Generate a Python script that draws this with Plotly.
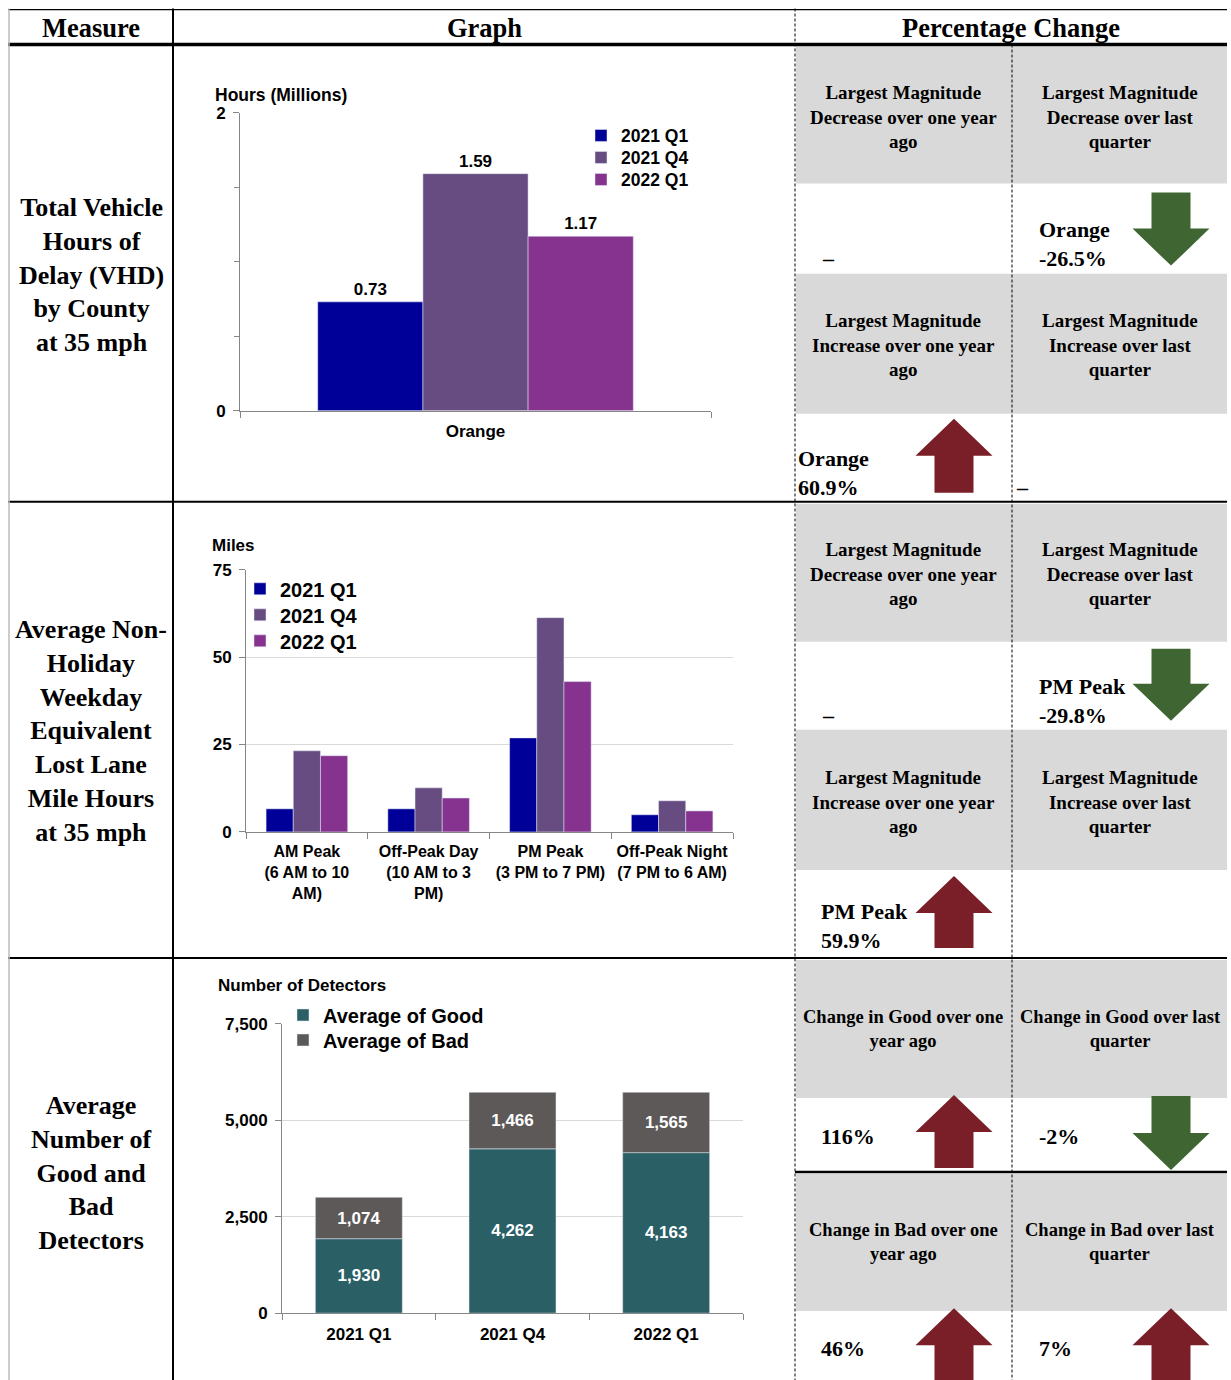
import plotly.graph_objects as go

W, H = 1231, 1384
Y_OFF, Y_SCALE = 8.5, 0.9858  # observed vertical placement of the figure in the page photo

# ---------------- data ----------------
series_names = ["2021 Q1", "2021 Q4", "2022 Q1"]

vhd_categories = ["Orange"]
vhd_2021_q1 = [0.73]
vhd_2021_q4 = [1.59]
vhd_2022_q1 = [1.17]

lane_categories = ["AM Peak<br>(6 AM to 10<br>AM)", "Off-Peak Day<br>(10 AM to 3<br>PM)",
                   "PM Peak<br>(3 PM to 7 PM)", "Off-Peak Night<br>(7 PM to 6 AM)"]
lane_2021_q1 = [6.6, 6.6, 26.9, 4.9]
lane_2021_q4 = [23.2, 12.6, 61.3, 8.9]
lane_2022_q1 = [21.8, 9.7, 43.0, 6.0]

det_quarters = ["2021 Q1", "2021 Q4", "2022 Q1"]
det_good = [1930, 4262, 4163]
det_bad = [1074, 1466, 1565]
det_series = ["Average of Good", "Average of Bad"]

# ---------------- style ----------------
SERIES_COLORS = ["#000099", "#664c80", "#86338f"]
GOOD_COLOR = "#2a5f66"
BAD_COLOR = "#5e5959"
GRAY = "#d9d9d9"
AXIS = "#868686"
RED = "#7a1e28"
GREEN = "#3f6632"
SANS = "Liberation Sans, Arial, sans-serif"
SERIF = "Liberation Serif, Times New Roman, serif"


def X(px):
    return px / W


def Y(py):
    return 1 - ((py - Y_OFF) / Y_SCALE) / H


fig = go.Figure()

# Chart 1 (each series in its own legend so rows can be spaced like the original)
for i, (name, vals, col) in enumerate(zip(series_names, [vhd_2021_q1, vhd_2021_q4, vhd_2022_q1], SERIES_COLORS)):
    fig.add_trace(go.Bar(x=vhd_categories, y=vals, name=name, marker_color=col,
                         texttemplate="%{y:.2f}", textposition="outside",
                         textfont=dict(family=SANS, size=17, color="black", weight="bold"),
                         cliponaxis=False, xaxis="x", yaxis="y", showlegend=True,
                         legend="legend" if i == 0 else f"legend{i + 1}"))

# Chart 2
for i, (name, vals, col) in enumerate(zip(series_names, [lane_2021_q1, lane_2021_q4, lane_2022_q1], SERIES_COLORS)):
    fig.add_trace(go.Bar(x=lane_categories, y=vals, name=name, marker_color=col, showlegend=True,
                         xaxis="x2", yaxis="y2", legend=f"legend{i + 4}"))

# Chart 3 (stacked via base)
fig.add_trace(go.Bar(x=det_quarters, y=det_good, name=det_series[0], marker_color=GOOD_COLOR,
                     width=0.566, offset=-0.283, showlegend=True,
                     texttemplate="%{y:,}", textposition="inside", insidetextanchor="middle",
                     textfont=dict(family=SANS, size=17, color="white", weight="bold"),
                     xaxis="x3", yaxis="y3", legend="legend7"))
fig.add_trace(go.Bar(x=det_quarters, y=det_bad, base=det_good, name=det_series[1], marker_color=BAD_COLOR,
                     width=0.566, offset=-0.283, showlegend=True,
                     texttemplate="%{y:,}", textposition="inside", insidetextanchor="middle",
                     textfont=dict(family=SANS, size=17, color="white", weight="bold"),
                     xaxis="x3", yaxis="y3", legend="legend8"))

tickfont = dict(family=SANS, size=17, color="black", weight="bold")
xcommon = dict(type="category", showline=True, linecolor=AXIS, ticks="outside", tickcolor=AXIS,
               ticklen=6, tickson="boundaries", showgrid=False, tickangle=0, fixedrange=True,
               ticklabelstandoff=5)
ycommon = dict(showline=True, linecolor=AXIS, ticks="outside", tickcolor=AXIS, ticklen=6,
               showgrid=True, gridcolor=GRAY, zeroline=False, tickfont=tickfont, fixedrange=True,
               ticklabelstandoff=4)


def leg(text_x, center_y, size):
    return dict(x=X(text_x - 40), y=Y(center_y), xanchor="left", yanchor="middle",
                bgcolor="rgba(0,0,0,0)", borderwidth=0, visible=True,
                font=dict(family=SANS, size=size, color="black", weight="bold"))


layout_legends = {
    "legend": leg(621, 135, 17.5), "legend2": leg(621, 157, 17.5), "legend3": leg(621, 179, 17.5),
    "legend4": leg(280, 588, 20), "legend5": leg(280, 614, 20), "legend6": leg(280, 640, 20),
    "legend7": leg(323, 1014, 20), "legend8": leg(323, 1039, 20),
}

fig.update_layout(
    width=W, height=H, autosize=False, showlegend=True,
    margin=dict(l=0, r=0, t=0, b=0, pad=0),
    paper_bgcolor="white", plot_bgcolor="white",
    barmode="group", bargap=0.33, bargroupgap=0,
    xaxis=dict(domain=[X(240), X(711)], anchor="y", tickfont=tickfont, **xcommon),
    yaxis=dict(domain=[Y(410), Y(112)], anchor="x", range=[0, 2], tickvals=[0, 2],
               minor=dict(ticks="outside", ticklen=5, tickcolor=AXIS, dtick=0.5, showgrid=False),
               **ycommon),
    xaxis2=dict(domain=[X(246), X(733)], anchor="y2",
                tickfont=dict(family=SANS, size=16, color="black", weight="bold"), **xcommon),
    yaxis2=dict(domain=[Y(831), Y(569)], anchor="x2", range=[0, 75], tickvals=[0, 25, 50, 75], **ycommon),
    xaxis3=dict(domain=[X(282), X(743)], anchor="y3", tickfont=tickfont, **xcommon),
    yaxis3=dict(domain=[Y(1312), Y(1023)], anchor="x3", range=[0, 7500], tickvals=[0, 2500, 5000, 7500],
                tickformat=",", **ycommon),
    **layout_legends,
)

shapes = []
annotations = []


def line(x0, y0, x1, y1, width=1, color="black", dash="solid"):
    shapes.append(dict(type="line", xref="paper", yref="paper", x0=X(x0), y0=Y(y0), x1=X(x1), y1=Y(y1),
                       line=dict(color=color, width=width, dash=dash), layer="above"))


def rect(x0, y0, x1, y1, color=GRAY):
    shapes.append(dict(type="rect", xref="paper", yref="paper", x0=X(x0), y0=Y(y0), x1=X(x1), y1=Y(y1),
                       fillcolor=color, line=dict(width=0), layer="below"))


def poly(points, color):
    path = "M " + " L ".join(f"{X(px):.5f},{Y(py):.5f}" for px, py in points) + " Z"
    shapes.append(dict(type="path", xref="paper", yref="paper", path=path, fillcolor=color,
                       line=dict(width=0), layer="above"))


def up_arrow(cx, tip, bottom, head=37):
    poly([(cx, tip), (cx + 38.5, tip + head), (cx + 19.5, tip + head), (cx + 19.5, bottom),
          (cx - 19.5, bottom), (cx - 19.5, tip + head), (cx - 38.5, tip + head)], RED)


def down_arrow(cx, top, tip, head=37):
    poly([(cx - 19.5, top), (cx + 19.5, top), (cx + 19.5, tip - head), (cx + 38.5, tip - head),
          (cx, tip), (cx - 38.5, tip - head), (cx - 19.5, tip - head)], GREEN)


def text(t, x, y, size, family=SERIF, xanchor="center", align="center", color="black"):
    annotations.append(dict(text=t, x=X(x), y=Y(y), xref="paper", yref="paper", showarrow=False,
                            xanchor=xanchor, yanchor="middle", align=align,
                            font=dict(family=family, size=size, color=color, weight="bold")))


# gray header cells
for y0, y1 in [(46, 183), (273, 413), (503, 641), (729, 869), (959, 1097), (1173, 1310)]:
    rect(796, y0, 1227, y1)

# table lines
line(8, 9.2, 1227, 9.2, 1.2)
line(8, 44, 1227, 44, 3.5)
line(8, 501, 1227, 501, 2)
line(8, 957, 1227, 957, 2)
line(795, 1171, 1227, 1171, 2.5)
line(9, 8, 9, 1395, 1.5, color="#bdbdbd")
line(173, 8, 173, 1395, 2)
line(795, 8, 795, 1395, 1, dash="3px,2px")
line(1012, 44, 1012, 1395, 1, dash="3px,2px")

# arrows
down_arrow(1171, 192, 265)
up_arrow(954, 418, 492)
down_arrow(1171, 648, 720)
up_arrow(954, 875, 947)
up_arrow(954, 1094, 1167)
down_arrow(1171, 1095, 1169)
up_arrow(954, 1307, 1400)
up_arrow(1171, 1307, 1400)

# header row
text("Measure", 91, 27, 26.5)
text("Graph", 484, 27, 26.5)
text("Percentage Change", 1011, 27, 26.5)

# measure column
text("Total Vehicle<br>Hours of<br>Delay (VHD)<br>by County<br>at 35 mph", 91, 274.5, 26)
text("Average Non-<br>Holiday<br>Weekday<br>Equivalent<br>Lost Lane<br>Mile Hours<br>at 35 mph", 91, 730.5, 26)
text("Average<br>Number of<br>Good and<br>Bad<br>Detectors", 91, 1171.5, 26)

# percentage change headers
text("Largest Magnitude<br>Decrease over one year<br>ago", 903, 116, 19)
text("Largest Magnitude<br>Decrease over last<br>quarter", 1120, 116, 19)
text("Largest Magnitude<br>Increase over one year<br>ago", 903, 344, 19)
text("Largest Magnitude<br>Increase over last<br>quarter", 1120, 344, 19)
text("Largest Magnitude<br>Decrease over one year<br>ago", 903, 573, 19)
text("Largest Magnitude<br>Decrease over last<br>quarter", 1120, 573, 19)
text("Largest Magnitude<br>Increase over one year<br>ago", 903, 801, 19)
text("Largest Magnitude<br>Increase over last<br>quarter", 1120, 801, 19)
text("Change in Good over one<br>year ago", 903, 1028, 18.5)
text("Change in Good over last<br>quarter", 1120, 1028, 18.5)
text("Change in Bad over one<br>year ago", 903, 1241, 18.5)
text("Change in Bad over last<br>quarter", 1120, 1241, 18.5)

# values
text("–", 820, 258, 22, xanchor="left")
text("Orange<br>-26.5%", 1037, 243.5, 22, xanchor="left", align="left")
text("Orange<br>60.9%", 796, 472, 22, xanchor="left", align="left")
text("–", 1014, 487, 22, xanchor="left")
text("–", 820, 715, 22, xanchor="left")
text("PM Peak<br>-29.8%", 1037, 700, 22, xanchor="left", align="left")
text("PM Peak<br>59.9%", 819, 925, 22, xanchor="left", align="left")
text("116%", 819, 1135, 22, xanchor="left")
text("-2%", 1037, 1135, 22, xanchor="left")
text("46%", 819, 1347, 22, xanchor="left")
text("7%", 1037, 1347, 22, xanchor="left")

# axis titles
text("Hours (Millions)", 213, 94, 17.5, family=SANS, xanchor="left")
text("Miles", 210, 545, 17, family=SANS, xanchor="left")
text("Number of Detectors", 216, 985, 17, family=SANS, xanchor="left")

fig.update_layout(shapes=shapes, annotations=annotations)
fig.write_html("out.html", config={"responsive": False, "displayModeBar": False})
